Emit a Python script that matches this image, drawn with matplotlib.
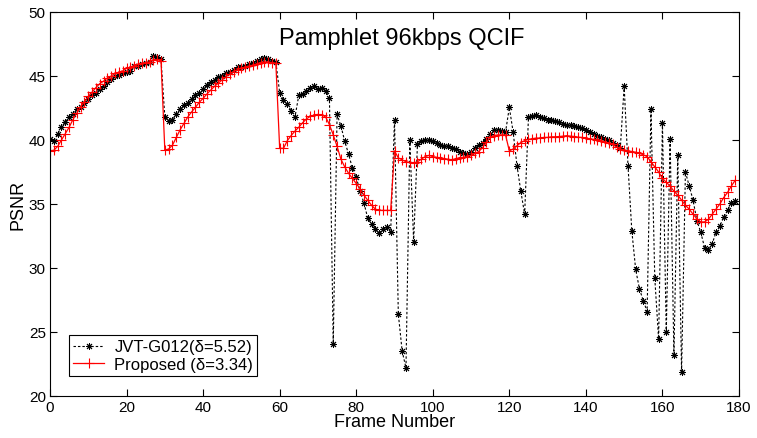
import numpy as np
import matplotlib
matplotlib.use("Agg")
import matplotlib.pyplot as plt

plt.rcParams['font.family'] = ['Liberation Sans', 'DejaVu Sans']

# PSNR per frame (frames 0..179)
jvt_psnr = [
    40.1, 39.95, 40.5, 41.0, 41.4, 41.8, 42.0, 42.4, 42.55, 42.9,
    43.2, 43.5, 43.7, 44.0, 44.2, 44.5, 44.8, 45.0, 45.1, 45.2,
    45.3, 45.4, 45.8, 45.8, 45.9, 46.0, 46.1, 46.6, 46.5, 46.3,
    41.8, 41.5, 41.6, 42.0, 42.4, 42.7, 42.9, 43.2, 43.5, 43.7,
    44.0, 44.3, 44.5, 44.7, 44.9, 45.0, 45.2, 45.3, 45.5, 45.7,
    45.7, 45.8, 45.9, 46.0, 46.2, 46.3, 46.4, 46.3, 46.2, 46.1,
    43.7, 43.1, 42.8, 42.3, 41.8, 43.5, 43.6, 43.85, 44.1, 44.2,
    44.0, 44.1, 43.85, 43.3, 24.1, 42.0, 41.1, 39.9, 38.9, 37.8,
    37.1, 36.0, 35.1, 33.9, 33.4, 33.05, 32.7, 33.05, 33.2, 32.8,
    41.6, 26.4, 23.5, 22.2, 40.0, 32.05, 39.7, 39.9, 40.0, 40.0,
    39.95, 39.8, 39.6, 39.5, 39.5, 39.4, 39.3, 39.1, 39.0, 38.9,
    39.1, 39.4, 39.6, 39.8, 40.1, 40.5, 40.8, 40.75, 40.7, 40.6,
    42.55, 40.6, 38.0, 36.0, 34.2, 41.8, 41.9, 41.95, 41.8, 41.7,
    41.6, 41.55, 41.45, 41.4, 41.25, 41.2, 41.15, 41.1, 41.05, 40.9,
    40.8, 40.6, 40.5, 40.35, 40.2, 40.1, 40.0, 39.8, 39.6, 39.4,
    44.2, 38.0, 32.9, 29.9, 28.35, 27.45, 26.6, 42.4, 29.2, 24.45,
    41.3, 24.97, 40.1, 23.2, 38.8, 21.9, 37.5, 36.4, 35.3, 33.7,
    32.8, 31.6, 31.4, 31.9, 32.8, 33.3, 33.96, 34.5, 35.1, 35.2,
]

proposed_psnr = [
    39.15, 39.2, 39.5, 40.0, 40.5, 41.0, 41.6, 42.1, 42.6, 43.0,
    43.4, 43.75, 44.1, 44.4, 44.6, 44.85, 45.0, 45.2, 45.3, 45.4,
    45.6, 45.7, 45.8, 45.9, 46.0, 46.05, 46.1, 46.25, 46.3, 46.2,
    39.2, 39.3, 39.6, 40.2, 40.8, 41.3, 41.8, 42.2, 42.55, 42.95,
    43.25, 43.6, 43.9, 44.2, 44.45, 44.7, 44.95, 45.15, 45.35, 45.5,
    45.6, 45.7, 45.75, 45.85, 45.95, 46.05, 46.1, 46.1, 46.05, 46.0,
    39.35, 39.35, 39.95, 40.35, 40.7, 41.0, 41.35, 41.65, 41.85, 41.95,
    42.0, 41.95, 41.8, 41.2, 40.4, 39.5, 38.5, 37.9, 37.4, 37.0,
    36.6, 36.2, 35.7, 35.3, 34.9, 34.6, 34.5, 34.5, 34.5, 34.5,
    39.15, 38.6, 38.45, 38.3, 38.25, 38.2, 38.3, 38.5, 38.7, 38.8,
    38.7, 38.65, 38.6, 38.55, 38.5, 38.45, 38.55, 38.6, 38.65, 38.7,
    38.8, 38.95, 39.1, 39.4, 39.85, 40.2, 40.35, 40.4, 40.4, 40.4,
    39.15, 39.3, 39.55, 39.8, 39.95, 40.05, 40.1, 40.15, 40.15, 40.2,
    40.2, 40.25, 40.25, 40.27, 40.3, 40.34, 40.3, 40.27, 40.22, 40.2,
    40.15, 40.1, 40.05, 40.0, 39.95, 39.85, 39.75, 39.65, 39.45, 39.3,
    39.2, 39.15, 39.1, 39.05, 38.95, 38.85, 38.7, 38.3, 37.9, 37.5,
    37.0, 36.7, 36.4, 36.0, 35.7, 35.3, 34.9, 34.6, 34.2, 33.85,
    33.6, 33.6, 33.8, 34.2, 34.6, 35.0, 35.5, 35.9, 36.4, 36.85,
]

labels = ["JVT-G012(\u03b4=5.52)", "Proposed (\u03b4=3.34)"]
title = "Pamphlet 96kbps QCIF"
xticks = [0, 20, 40, 60, 80, 100, 120, 140, 160, 180]
yticks = [20, 25, 30, 35, 40, 45, 50]

frames = np.arange(len(jvt_psnr))

fig = plt.figure(figsize=(7.57, 4.39), dpi=100)
ax = fig.add_axes([50 / 757, 42 / 439, 689 / 757, 384 / 439])

ax.plot(frames, jvt_psnr, color='black', linestyle=(0, (2.2, 1.8)), linewidth=0.8,
        marker=(8, 2, 0), markersize=5, markeredgewidth=0.7, label=labels[0])
ax.plot(frames, proposed_psnr, color='red', linestyle='-', linewidth=0.9,
        marker='+', markersize=7, markeredgewidth=0.8, label=labels[1])

ax.set_xlim(0, 180)
ax.set_ylim(20, 50)
ax.set_xticks(xticks)
ax.set_yticks(yticks)
ax.tick_params(direction='in', length=5, width=0.8, top=True, right=True,
               labelsize=11, pad=3)
for s in ax.spines.values():
    s.set_linewidth(0.8)

ax.set_xlabel("Frame Number", fontsize=13, labelpad=-1)
ax.set_ylabel("PSNR", fontsize=13, labelpad=2)
ax.text(0.511, 0.917, title, transform=ax.transAxes, ha='center', va='baseline',
        fontsize=17)

leg = ax.legend(loc='lower left', bbox_to_anchor=(0.027, 0.052), borderaxespad=0,
                fontsize=12, numpoints=1, fancybox=False, framealpha=1,
                edgecolor='black', handlelength=1.9, handletextpad=0.6,
                borderpad=0.25, labelspacing=0.15)
leg.get_frame().set_linewidth(0.8)

fig.savefig("out.png", dpi=100)
